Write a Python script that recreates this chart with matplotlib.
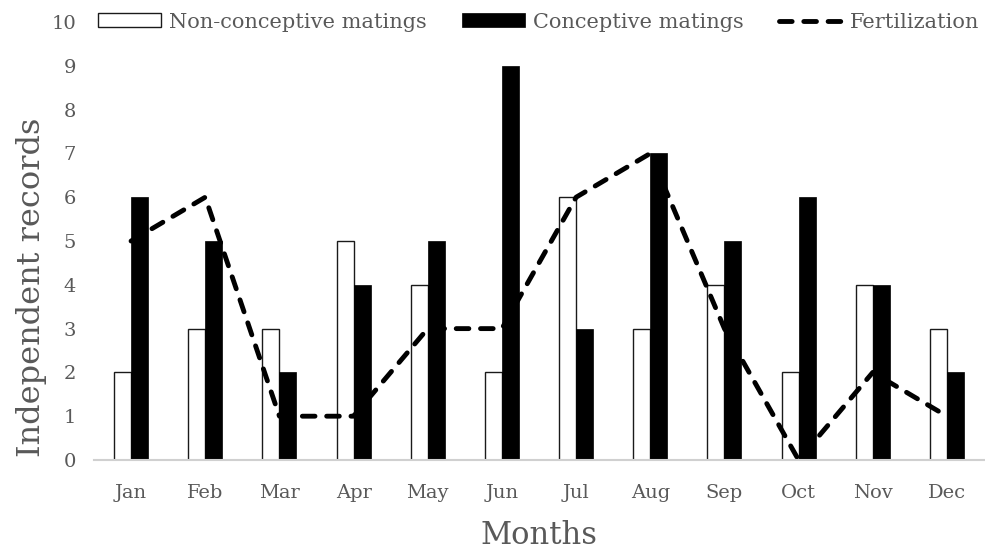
import matplotlib
matplotlib.use("Agg")
import matplotlib.pyplot as plt
import numpy as np

months = ["Jan", "Feb", "Mar", "Apr", "May", "Jun", "Jul", "Aug", "Sep", "Oct", "Nov", "Dec"]
non_conceptive = [2, 3, 3, 5, 4, 2, 6, 3, 4, 2, 4, 3]
conceptive = [6, 5, 2, 4, 5, 9, 3, 7, 5, 6, 4, 2]
fertilization = [5, 6, 1, 1, 3, 3, 6, 7, 3, 0, 2, 1]
y_ticks = list(range(0, 11))

plt.rcParams["font.family"] = ["DejaVu Serif"]
text_color = "#595959"

fig = plt.figure(figsize=(9.85, 5.52), dpi=100)
ax = fig.add_axes([0.0954, 0.1667, 0.9036, 0.7933])

x = np.arange(len(months))
w = 0.23
h_non = ax.bar(x - w / 2, non_conceptive, width=w, color="white", edgecolor="#1a1a1a",
               linewidth=1.0, label="Non-conceptive matings", zorder=2)
h_con = ax.bar(x + w / 2, conceptive, width=w, color="black", edgecolor="black",
               linewidth=0.5, label="Conceptive matings", zorder=2)
h_fert, = ax.plot(x, fertilization, color="black", linewidth=3.5, linestyle=(0, (2.6, 2.4)),
                  dash_capstyle="round", label="Fertilization", zorder=3)

ax.set_xlim(-0.5, len(months) - 0.5)
ax.set_ylim(0, 10)
ax.set_yticks(y_ticks)
ax.set_xticks(x)
ax.set_xticklabels(months)
ax.tick_params(axis="both", length=0, colors=text_color, labelsize=14)
ax.tick_params(axis="x", pad=17)
ax.tick_params(axis="y", pad=13)
for side in ["top", "right", "left"]:
    ax.spines[side].set_visible(False)
ax.spines["bottom"].set_color("#d0d0d0")
ax.spines["bottom"].set_linewidth(1.5)
ax.spines["bottom"].set_zorder(4)

ax.set_xlabel("Months", fontsize=22, color=text_color, labelpad=13)
ax.set_ylabel("Independent records", fontsize=23, color=text_color)
ax.yaxis.set_label_coords(-0.053, 0.395)

leg = fig.legend([h_non, h_con, h_fert],
                 ["Non-conceptive matings", "Conceptive matings", "Fertilization"],
                 loc="center left", bbox_to_anchor=(0.0995, 0.96), ncol=3, frameon=False,
                 fontsize=15, handlelength=3.0, handleheight=0.62, columnspacing=1.7,
                 handletextpad=0.4, borderaxespad=0, borderpad=0)
for t in leg.get_texts():
    t.set_color(text_color)

fig.savefig("out.png", dpi=100)
